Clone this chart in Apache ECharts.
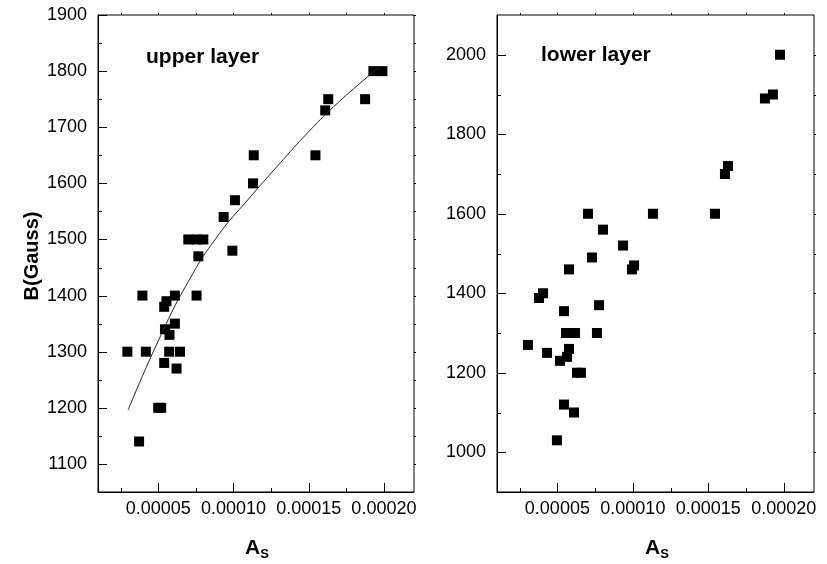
<!DOCTYPE html>
<html>
<head>
<meta charset="utf-8">
<script src="https://cdn.jsdelivr.net/npm/echarts@6/dist/echarts.min.js"></script>
<style>
html, body { margin: 0; background: #fff; }
#main { width: 827px; height: 564px; }
</style>
</head>
<body>
<div id="main"></div>
<script>
// upper layer points (A_S, B)
var upperX = [0.000193, 0.000199, 0.000163, 0.000161, 0.0001875, 0.0001135, 0.0001545, 0.000113,
  0.000101, 0.0000935, 0.00007, 0.0000755, 0.00008, 0.0000767, 0.0000993, 0.0000395, 0.0000611,
  0.0000755, 0.0000555, 0.000054, 0.0000611, 0.0000545, 0.0000575, 0.0000295, 0.0000418,
  0.0000573, 0.0000645, 0.000054, 0.0000622, 0.00005, 0.000052, 0.0000373];
var upperY = [1800, 1800, 1750, 1730, 1750, 1650, 1650, 1600,
  1570, 1540, 1500, 1500, 1500, 1470, 1480, 1400, 1400,
  1400, 1390, 1380, 1350, 1340, 1330, 1300, 1300,
  1300, 1300, 1280, 1270, 1200, 1200, 1140];

// fitted curve
var fitX = [0.00003, 0.00005, 0.00007, 0.00009, 0.00011, 0.00013, 0.00015, 0.00017, 0.0001973];
var fitY = [1196, 1319, 1425, 1508, 1572, 1633, 1692, 1745, 1808];

// lower layer points
var lowerX = [0.0001975, 0.0001928, 0.0001875, 0.000163, 0.000161, 0.0001544, 0.0001133, 0.0000703,
  0.0000802, 0.0000935, 0.0000729, 0.0000577, 0.0001008, 0.0000994, 0.0000405, 0.0000378,
  0.0000776, 0.0000544, 0.0000557, 0.0000617, 0.0000762, 0.0000305, 0.0000431, 0.0000577,
  0.0000564, 0.0000517, 0.000063, 0.0000656, 0.0000544, 0.000061, 0.0000497];
var lowerY = [2000, 1900, 1890, 1720, 1700, 1600, 1600, 1600,
  1560, 1520, 1490, 1460, 1470, 1460, 1400, 1388,
  1370, 1355, 1300, 1300, 1300, 1270, 1250, 1260,
  1240, 1230, 1200, 1200, 1120, 1100, 1030];

var xTicks = [0.00005, 0.0001, 0.00015, 0.0002];
var xMinor = [0.000025, 0.000075, 0.000125, 0.000175];
var upperTicks = [1100, 1200, 1300, 1400, 1500, 1600, 1700, 1800, 1900];
var upperMinor = [1150, 1250, 1350, 1450, 1550, 1650, 1750, 1850];
var lowerTicks = [1000, 1200, 1400, 1600, 1800, 2000];
var lowerMinor = [1100, 1300, 1500, 1700, 1900];

var X_MIN = 0.00001, X_MAX = 0.00022;
var FONT = 'Liberation Sans';

function pairs(xs, ys) {
  return xs.map(function (x, i) { return [x, ys[i]]; });
}

function xAxis(grid) {
  return {
    type: 'value', gridIndex: grid, min: X_MIN, max: X_MAX, position: 'bottom',
    splitLine: { show: false },
    axisLine: { show: true, lineStyle: { color: '#000' } },
    axisTick: { show: false },
    axisLabel: { customValues: xTicks, color: '#000', fontSize: 18, fontFamily: FONT, margin: 8,
      formatter: function (v) { return v.toFixed(5); } }
  };
}

function yAxis(grid, min, max, ticks) {
  return {
    type: 'value', gridIndex: grid, min: min, max: max, position: 'left',
    splitLine: { show: false },
    axisLine: { show: true, lineStyle: { color: '#000' } },
    axisTick: { show: false },
    axisLabel: { customValues: ticks, color: '#000', fontSize: 18, fontFamily: FONT, margin: 11,
      formatter: function (v) { return String(v); } }
  };
}

// tick rows: [side, value, length]; side 0 bottom, 1 left, 2 top, 3 right
function tickRows(yTicks, yMinor) {
  var rows = [];
  xTicks.forEach(function (v) { rows.push([0, v, 9]); rows.push([2, v, 2]); });
  xMinor.forEach(function (v) { rows.push([0, v, 4]); rows.push([2, v, 2]); });
  yTicks.forEach(function (v) { rows.push([1, v, 9]); rows.push([3, v, 2]); });
  yMinor.forEach(function (v) { rows.push([1, v, 4]); rows.push([3, v, 2]); });
  return rows;
}

function tickRenderer(yMin, yMax) {
  return function (params, api) {
    var side = api.value(0), v = api.value(1), len = api.value(2);
    var a, b;
    if (side === 0 || side === 2) {
      a = api.coord([v, side === 0 ? yMin : yMax]);
      var x = Math.round(a[0]) + 0.5;
      b = { x1: x, y1: a[1], x2: x, y2: a[1] - len };
    } else {
      a = api.coord([side === 1 ? X_MIN : X_MAX, v]);
      var y = Math.round(a[1]) + 0.5;
      b = { x1: a[0], y1: y, x2: a[0] + len, y2: y };
    }
    return { type: 'line', shape: b, style: { stroke: '#000', lineWidth: 1 } };
  };
}

var nameRich = {
  a: { fontSize: 21, fontWeight: 'bold', fontFamily: FONT, fill: '#000', color: '#000' },
  s: { fontSize: 13, fontWeight: 'bold', fontFamily: FONT, fill: '#000', color: '#000', padding: [12, 0, 0, 0] }
};

var myChart = echarts.init(document.getElementById('main'));

var option = {
  animation: false,
  backgroundColor: '#fff',
  title: [
    { text: 'upper layer', left: 146, top: 47, padding: 0,
      textStyle: { fontSize: 21, fontWeight: 'bold', fontFamily: FONT, color: '#000' } },
    { text: 'lower layer', left: 541, top: 45, padding: 0,
      textStyle: { fontSize: 21, fontWeight: 'bold', fontFamily: FONT, color: '#000' } }
  ],
  graphic: [
    { type: 'text', x: 32, y: 256, rotation: Math.PI / 2,
      style: { text: 'B(Gauss)', fontSize: 20, fontWeight: 'bold', fontFamily: FONT, fill: '#000',
        align: 'center', verticalAlign: 'middle' } },
    { type: 'text', x: 257, y: 548,
      style: { text: '{a|A}{s|S}', rich: nameRich, align: 'center', verticalAlign: 'middle' } },
    { type: 'text', x: 657, y: 548,
      style: { text: '{a|A}{s|S}', rich: nameRich, align: 'center', verticalAlign: 'middle' } }
  ],
  grid: [
    { left: 98, right: 413, top: 15, bottom: 72, show: true, borderColor: '#000', borderWidth: 1 },
    { left: 497, right: 13, top: 15, bottom: 72, show: true, borderColor: '#000', borderWidth: 1 }
  ],
  xAxis: [xAxis(0), xAxis(1)],
  yAxis: [yAxis(0, 1050, 1900, upperTicks), yAxis(1, 900, 2100, lowerTicks)],
  series: [
    {
      name: 'upper', type: 'scatter', xAxisIndex: 0, yAxisIndex: 0,
      symbol: 'rect', symbolSize: 10, itemStyle: { color: '#000', opacity: 1 },
      data: pairs(upperX, upperY)
    },
    {
      name: 'fit', type: 'line', xAxisIndex: 0, yAxisIndex: 0, smooth: true,
      showSymbol: false, lineStyle: { color: '#222', width: 1 },
      data: pairs(fitX, fitY)
    },
    {
      name: 'lower', type: 'scatter', xAxisIndex: 1, yAxisIndex: 1,
      symbol: 'rect', symbolSize: 10, itemStyle: { color: '#000', opacity: 1 },
      data: pairs(lowerX, lowerY)
    },
    {
      name: 'ticks0', type: 'custom', xAxisIndex: 0, yAxisIndex: 0, silent: true, clip: false, z: 3,
      renderItem: tickRenderer(1050, 1900), data: tickRows(upperTicks, upperMinor)
    },
    {
      name: 'ticks1', type: 'custom', xAxisIndex: 1, yAxisIndex: 1, silent: true, clip: false, z: 3,
      renderItem: tickRenderer(900, 2100), data: tickRows(lowerTicks, lowerMinor)
    }
  ]
};
myChart.setOption(option);
</script>
</body>
</html>
